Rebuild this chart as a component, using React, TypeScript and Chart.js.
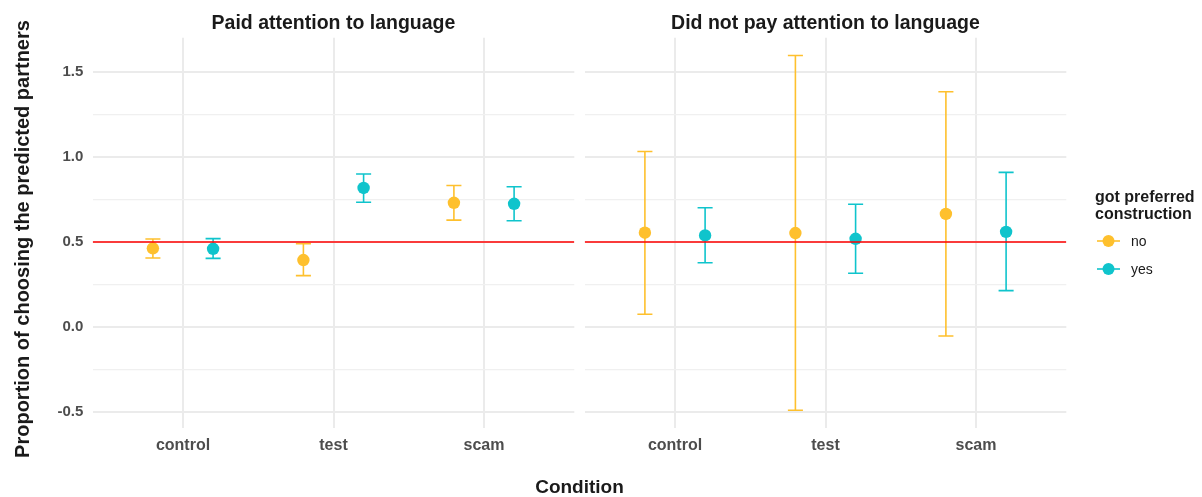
import React, { useEffect, useRef } from "react";
import { Chart, registerables } from "chart.js";

Chart.register(...registerables);

// ---------- data ----------
const conditions = ["control", "test", "scam"];
const groupLabels = ["no", "yes"];
const panelTitles = ["Paid attention to language", "Did not pay attention to language"];

// Panel 1: paid attention to language
const paidNoMean = [0.463, 0.394, 0.731];
const paidNoLow = [0.406, 0.302, 0.629];
const paidNoHigh = [0.518, 0.49, 0.833];
const paidYesMean = [0.46, 0.818, 0.725];
const paidYesLow = [0.404, 0.734, 0.625];
const paidYesHigh = [0.52, 0.9, 0.825];

// Panel 2: did not pay attention to language
const notNoMean = [0.555, 0.553, 0.665];
const notNoLow = [0.075, -0.49, -0.053];
const notNoHigh = [1.033, 1.598, 1.384];
const notYesMean = [0.539, 0.519, 0.56];
const notYesLow = [0.378, 0.316, 0.214];
const notYesHigh = [0.702, 0.722, 0.91];

const yTicks = [-0.5, -0.25, 0, 0.25, 0.5, 0.75, 1, 1.25, 1.5];
const referenceLine = 0.5;

// ---------- style ----------
const groupColors = ["#FEC02D", "#0FC4CC"];
const FONT = "'Liberation Sans', Arial, Helvetica, sans-serif";
const W = 1202;
const H = 497;
const PANEL_TOP = 37.7;
const AXIS_H = 69;
const PANEL1 = [92.7, 574.3];
const PANEL2 = [584.7, 1066.3];
const DODGE = 0.2;
const CAP = 0.05;

const allVals = [
  ...paidNoLow, ...paidNoHigh, ...paidYesLow, ...paidYesHigh,
  ...notNoLow, ...notNoHigh, ...notYesLow, ...notYesHigh, referenceLine,
];
const dataMin = Math.min(...allVals);
const dataMax = Math.max(...allVals);
const yMin = dataMin - 0.05 * (dataMax - dataMin);
const yMax = dataMax + 0.05 * (dataMax - dataMin);

type Series = { mean: number[]; low: number[]; high: number[] };

const isMajor = (v: number) => Math.abs(v * 2 - Math.round(v * 2)) < 1e-9;

function buildDatasets(series: Series[]) {
  const ds: any[] = [];
  ds.push({
    type: "scatter",
    data: [
      { x: 0.4, y: referenceLine },
      { x: 3.6, y: referenceLine },
    ],
    showLine: true,
    borderColor: "#FF0000",
    borderWidth: 1.6,
    pointRadius: 0,
    order: 0,
  });
  series.forEach((s, gi) => {
    const off = gi === 0 ? -DODGE : DODGE;
    const color = groupColors[gi];
    ds.push({
      type: "scatter",
      data: s.mean.map((m, i) => ({ x: i + 1 + off, y: m })),
      pointRadius: 6.2,
      pointHoverRadius: 6.2,
      backgroundColor: color,
      borderWidth: 0,
      order: 1,
    });
    const bars: any[] = [];
    s.mean.forEach((_, i) => {
      const c = i + 1 + off;
      const hi = s.high[i];
      const lo = s.low[i];
      bars.push(
        { x: c - CAP, y: hi }, { x: c + CAP, y: hi }, { x: c, y: null },
        { x: c, y: hi }, { x: c, y: lo }, { x: c, y: null },
        { x: c - CAP, y: lo }, { x: c + CAP, y: lo }, { x: c, y: null }
      );
    });
    ds.push({
      type: "scatter",
      data: bars,
      showLine: true,
      spanGaps: false,
      borderColor: color,
      borderWidth: 1.6,
      borderCapStyle: "butt",
      pointRadius: 0,
      order: 2,
    });
  });
  return ds;
}

function makeConfig(series: Series[], showY: boolean, panel: number[]): any {
  return {
    type: "scatter",
    data: { datasets: buildDatasets(series) },
    options: {
      responsive: false,
      animation: false,
      devicePixelRatio: 1,
      events: [],
      layout: {
        padding: {
          left: showY ? 0 : panel[0],
          right: W - panel[1],
          top: PANEL_TOP,
          bottom: 0,
        },
      },
      plugins: { legend: { display: false }, tooltip: { enabled: false } },
      scales: {
        x: {
          type: "linear",
          min: 0.4,
          max: 3.6,
          afterBuildTicks: (s: any) => {
            s.ticks = conditions.map((_, i) => ({ value: i + 1 }));
          },
          afterFit: (s: any) => {
            s.height = AXIS_H;
          },
          ticks: {
            callback: (v: any) => conditions[Math.round(v) - 1],
            font: { family: FONT, size: 16, weight: "bold" },
            color: "#4D4D4D",
            padding: 8,
            maxRotation: 0,
          },
          grid: { color: "#EBEBEB", lineWidth: 2, drawTicks: false },
          border: { display: false },
        },
        y: {
          type: "linear",
          min: yMin,
          max: yMax,
          afterBuildTicks: (s: any) => {
            s.ticks = yTicks.map((v) => ({ value: v }));
          },
          afterFit: (s: any) => {
            s.width = showY ? panel[0] : 0;
          },
          ticks: {
            display: showY,
            callback: (v: any) => (isMajor(Number(v)) ? Number(v).toFixed(1) : ""),
            font: { family: FONT, size: 15, weight: "bold" },
            color: "#4D4D4D",
            padding: 9.4,
          },
          grid: {
            color: (ctx: any) => (ctx.tick && isMajor(ctx.tick.value) ? "#EBEBEB" : "#F0F0F0"),
            lineWidth: (ctx: any) => (ctx.tick && isMajor(ctx.tick.value) ? 2 : 1.3),
            drawTicks: false,
          },
          border: { display: false },
        },
      },
    },
  };
}

function LegendMarker({ color }: { color: string }) {
  return (
    <svg width={26} height={14} style={{ position: "absolute", left: 0, top: -7 }}>
      <line x1={1} y1={7} x2={24} y2={7} stroke={color} strokeWidth={1.6} />
      <circle cx={12.5} cy={7} r={6} fill={color} />
    </svg>
  );
}

export default function App() {
  const ref1 = useRef<HTMLCanvasElement>(null);
  const ref2 = useRef<HTMLCanvasElement>(null);

  useEffect(() => {
    const c1 = new Chart(
      ref1.current as HTMLCanvasElement,
      makeConfig(
        [
          { mean: paidNoMean, low: paidNoLow, high: paidNoHigh },
          { mean: paidYesMean, low: paidYesLow, high: paidYesHigh },
        ],
        true,
        PANEL1
      )
    );
    const c2 = new Chart(
      ref2.current as HTMLCanvasElement,
      makeConfig(
        [
          { mean: notNoMean, low: notNoLow, high: notNoHigh },
          { mean: notYesMean, low: notYesLow, high: notYesHigh },
        ],
        false,
        PANEL2
      )
    );
    return () => {
      c1.destroy();
      c2.destroy();
    };
  }, []);

  const titleStyle: React.CSSProperties = {
    position: "absolute",
    top: 10,
    fontFamily: FONT,
    fontWeight: "bold",
    fontSize: 19.5,
    lineHeight: "24px",
    color: "#1A1A1A",
    textAlign: "center",
    whiteSpace: "nowrap",
  };

  return (
    <div
      style={{
        position: "absolute",
        left: 0,
        top: 0,
        width: W,
        height: H,
        background: "#FFFFFF",
        overflow: "hidden",
      }}
    >
      <canvas ref={ref1} width={W} height={H} style={{ position: "absolute", left: 0, top: 0 }} />
      <canvas ref={ref2} width={W} height={H} style={{ position: "absolute", left: 0, top: 0 }} />
      <div style={{ ...titleStyle, left: PANEL1[0], width: PANEL1[1] - PANEL1[0] }}>{panelTitles[0]}</div>
      <div style={{ ...titleStyle, left: PANEL2[0], width: PANEL2[1] - PANEL2[0] }}>{panelTitles[1]}</div>
      <div
        style={{
          position: "absolute",
          left: 22 - 250,
          top: 239 - 12,
          width: 500,
          height: 24,
          lineHeight: "24px",
          textAlign: "center",
          transform: "rotate(-90deg)",
          fontFamily: FONT,
          fontWeight: "bold",
          fontSize: 20,
          color: "#1A1A1A",
          whiteSpace: "nowrap",
        }}
      >
        Proportion of choosing the predicted partners
      </div>
      <div
        style={{
          position: "absolute",
          left: PANEL1[0],
          width: PANEL2[1] - PANEL1[0],
          top: 475,
          lineHeight: "24px",
          textAlign: "center",
          fontFamily: FONT,
          fontWeight: "bold",
          fontSize: 19,
          color: "#1A1A1A",
        }}
      >
        Condition
      </div>
      <div
        style={{
          position: "absolute",
          left: 1095,
          top: 187.5,
          fontFamily: FONT,
          fontWeight: "bold",
          fontSize: 16,
          lineHeight: "17px",
          color: "#1A1A1A",
          whiteSpace: "nowrap",
        }}
      >
        got preferred
        <br />
        construction
      </div>
      {groupLabels.map((g, i) => (
        <div key={g} style={{ position: "absolute", left: 1096, top: 241 + i * 27.5 }}>
          <LegendMarker color={groupColors[i]} />
          <div
            style={{
              position: "absolute",
              left: 35,
              top: -9,
              lineHeight: "18px",
              fontFamily: FONT,
              fontSize: 14,
              color: "#1A1A1A",
              whiteSpace: "nowrap",
            }}
          >
            {g}
          </div>
        </div>
      ))}
    </div>
  );
}
